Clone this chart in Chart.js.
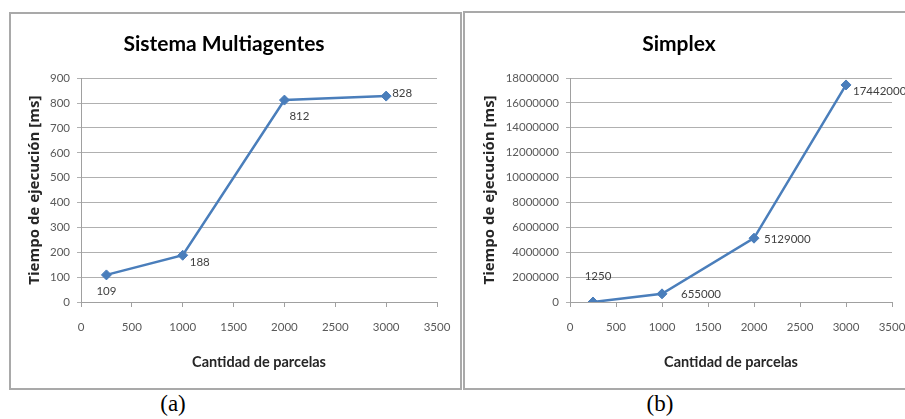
<!DOCTYPE html>
<html>
<head>
<meta charset="utf-8">
<script src="https://cdn.jsdelivr.net/npm/chart.js@4.4.0/dist/chart.umd.min.js"></script>
<style>
  html, body { margin: 0; padding: 0; background: #fff; width: 905px; height: 419px; overflow: hidden; position: relative; }
  .panel { position: absolute; border: 2px solid #a9a9a9; box-sizing: border-box; background: #fff; }
  #pa { left: 9px; top: 12px; width: 453px; height: 378px; }
  #pb { left: 463px; top: 11px; width: 470px; height: 379px; }
  canvas { position: absolute; }
  #ca { left: 11px; top: 14px; }
  #cb { left: 466px; top: 13px; }
  .cap { position: absolute; top: 392px; font-family: "Liberation Serif", serif; font-size: 23px; line-height: 23px; color: #000; transform: translateX(-50%); white-space: nowrap; }
</style>
</head>
<body>
<div class="panel" id="pa"></div>
<div class="panel" id="pb"></div>
<canvas id="ca" width="449" height="374"></canvas>
<canvas id="cb" width="450" height="375"></canvas>
<div class="cap" style="left:173px">(a)</div>
<div class="cap" style="left:660px">(b)</div>
<script>
// Number of land parcels processed (x values shared by both charts)
const parcelas = [250, 1000, 2000, 3000];
// Execution time in ms
const tiempoMultiagentes = [109, 188, 812, 828];
const tiempoSimplex = [1250, 655000, 5129000, 17442000];
// Axis tick labels
const ticksX = [0, 500, 1000, 1500, 2000, 2500, 3000, 3500];
const ticksYMultiagentes = [0, 100, 200, 300, 400, 500, 600, 700, 800, 900];
const ticksYSimplex = [0, 2000000, 4000000, 6000000, 8000000, 10000000, 12000000, 14000000, 16000000, 18000000];

const LINE = '#4a7ebb';
const GRID = '#b0b0b0';
const AXIS = '#a0a0a0';
const TICK_TEXT = '#595959';
const tickFont = { family: 'Lato', size: 11.5 };

// Draws each point's value next to its marker
const pointLabels = {
  id: 'pointLabels',
  afterDatasetsDraw(chart, args, opts) {
    const ctx = chart.ctx;
    const meta = chart.getDatasetMeta(0);
    const data = chart.data.datasets[0].data;
    ctx.save();
    ctx.font = '11.5px Lato';
    ctx.fillStyle = '#404040';
    ctx.textBaseline = 'middle';
    meta.data.forEach((pt, i) => {
      const p = opts.place[i];
      ctx.textAlign = p.align;
      ctx.fillText(String(data[i].y), pt.x + p.dx, pt.y + p.dy);
    });
    ctx.restore();
  }
};

function makeChart(id, title, values, yTicks, yAxisWidth, rightPad, titlePad, place) {
  return new Chart(document.getElementById(id), {
    type: 'line',
    data: {
      datasets: [{
        data: parcelas.map((x, i) => ({ x: x, y: values[i] })),
        borderColor: LINE,
        backgroundColor: LINE,
        borderWidth: 2.5,
        pointStyle: 'rectRot',
        pointRadius: 5,
        pointBorderWidth: 1,
        tension: 0
      }]
    },
    plugins: [pointLabels],
    options: {
      responsive: false,
      animation: false,
      devicePixelRatio: 1,
      events: [],
      layout: { padding: { left: 0, right: rightPad, top: 0, bottom: 0 } },
      plugins: {
        legend: { display: false },
        tooltip: { enabled: false },
        title: {
          display: true,
          text: title,
          color: '#000',
          font: { family: 'Lato', size: 21, weight: 'bold' },
          padding: titlePad
        },
        pointLabels: { place: place }
      },
      scales: {
        x: {
          type: 'linear',
          min: 0,
          max: 3500,
          afterBuildTicks: s => { s.ticks = ticksX.map(v => ({ value: v })); },
          afterFit: s => { s.height = 86; s.paddingLeft = 0; s.paddingRight = 0; },
          ticks: { font: tickFont, color: TICK_TEXT, padding: 13, maxRotation: 0, autoSkip: false, callback: v => String(v) },
          grid: { drawOnChartArea: false, tickLength: 5, color: AXIS },
          border: { color: AXIS },
          title: {
            display: true,
            text: 'Cantidad de parcelas',
            color: '#262626',
            font: { family: 'Lato', size: 14.5, weight: 'bold' },
            padding: { top: 0, bottom: 17 }
          }
        },
        y: {
          min: yTicks[0],
          max: yTicks[yTicks.length - 1],
          afterBuildTicks: s => { s.ticks = yTicks.map(v => ({ value: v })); },
          afterFit: s => { s.width = yAxisWidth; },
          ticks: { font: tickFont, color: TICK_TEXT, padding: 7, autoSkip: false, callback: v => String(v) },
          grid: { color: GRID, tickLength: 4 },
          border: { color: AXIS },
          title: {
            display: true,
            text: 'Tiempo de ejecución [ms]',
            color: '#262626',
            font: { family: 'Open Sans', size: 15, weight: 'bold' },
            padding: { top: 15, bottom: 0 }
          }
        }
      }
    }
  });
}

makeChart('ca', 'Sistema Multiagentes', tiempoMultiagentes, ticksYMultiagentes, 70, 23,
  { top: 18, bottom: 21 },
  [
    { dx: 0, dy: 16, align: 'center' },
    { dx: 7, dy: 7, align: 'left' },
    { dx: 5, dy: 16, align: 'left' },
    { dx: 6, dy: -3, align: 'left' }
  ]);

makeChart('cb', 'Simplex', tiempoSimplex, ticksYSimplex, 104, 24,
  { top: 18.4, bottom: 21.4 },
  [
    { dx: 5, dy: -26, align: 'center' },
    { dx: 19, dy: 0, align: 'left' },
    { dx: 10, dy: 1, align: 'left' },
    { dx: 7, dy: 6, align: 'left' }
  ]);
</script>
</body>
</html>
